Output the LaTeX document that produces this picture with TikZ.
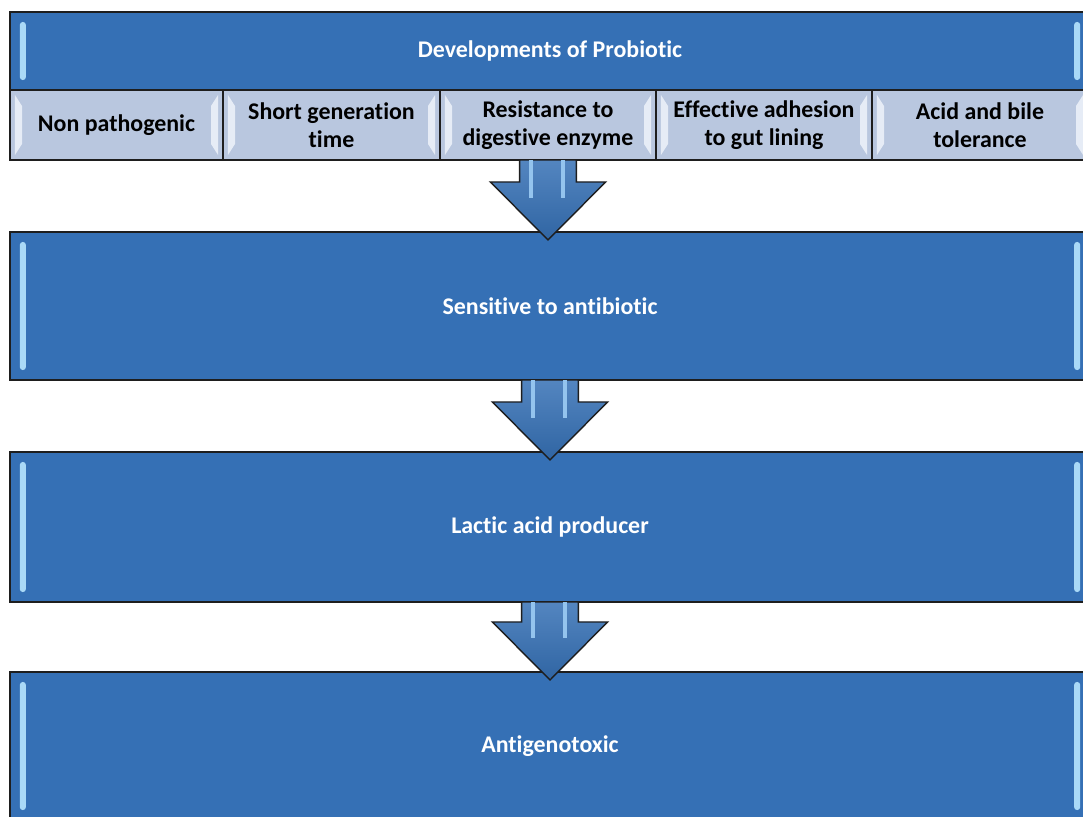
\documentclass[tikz,border=0pt]{standalone}
\usepackage{fontspec}
\setmainfont{Carlito}[Ligatures=NoCommon]
\usetikzlibrary{calc,positioning}
\definecolor{boxblue}{HTML}{3570B5}
\definecolor{subfill}{HTML}{B9C7DF}
\definecolor{bevel}{HTML}{E6ECF6}
\definecolor{barlight}{HTML}{A9D9F7}
\definecolor{edge}{HTML}{1E1E1E}
\definecolor{shine}{HTML}{94C4EE}

\tikzset{
  mainbox/.style={draw=edge,line width=1.2pt,fill=boxblue,text=white,
    font=\fontsize{17}{19.5}\selectfont\bfseries,minimum width=27cm,
    inner sep=0pt,outer sep=0pt,
    path picture={
      \fill[barlight,rounded corners=2pt] ([shift={(0.25cm,-0.25cm)}]path picture bounding box.north west)
        rectangle ([shift={(0.4cm,0.25cm)}]path picture bounding box.south west);
      \fill[barlight,rounded corners=2pt] ([shift={(-0.25cm,-0.25cm)}]path picture bounding box.north east)
        rectangle ([shift={(-0.4cm,0.25cm)}]path picture bounding box.south east);
    }},
  subbox/.style={draw=edge,line width=1.2pt,fill=subfill,text=black,align=center,
    font=\fontsize{17}{19.5}\selectfont\bfseries,minimum height=1.75cm,
    inner sep=0pt,outer sep=0pt,
    path picture={
      \fill[bevel] ([shift={(0.12cm,-0.12cm)}]path picture bounding box.north west)
        -- ([shift={(0.3cm,-0.4cm)}]path picture bounding box.north west)
        -- ([shift={(0.3cm,0.4cm)}]path picture bounding box.south west)
        -- ([shift={(0.12cm,0.12cm)}]path picture bounding box.south west) -- cycle;
      \fill[bevel] ([shift={(-0.12cm,-0.12cm)}]path picture bounding box.north east)
        -- ([shift={(-0.3cm,-0.4cm)}]path picture bounding box.north east)
        -- ([shift={(-0.3cm,0.4cm)}]path picture bounding box.south east)
        -- ([shift={(-0.12cm,0.12cm)}]path picture bounding box.south east) -- cycle;
    }},
  arrowbody/.style={draw=edge,line width=1pt,line join=miter,top color=boxblue!85!white,bottom color=boxblue!90!black},
  arrowshine/.style={shine,line width=3pt}
}

% block arrow from one box down into the next
\newcommand{\probarrow}[2]{%
  \coordinate (tip) at ([yshift=-0.2cm]#1.south |- #2.north);
  \draw[arrowbody] ([xshift=-0.71cm]#1.south) -- ([xshift=-0.71cm,yshift=1.45cm]tip)
    -- ([xshift=-1.44cm,yshift=1.45cm]tip) -- (tip) -- ([xshift=1.44cm,yshift=1.45cm]tip)
    -- ([xshift=0.71cm,yshift=1.45cm]tip) -- ([xshift=0.71cm]#1.south) -- cycle;
  \draw[arrowshine] ([xshift=-0.42cm]#1.south) -- ([xshift=-0.42cm,yshift=1.05cm]tip);
  \draw[arrowshine] ([xshift=0.38cm]#1.south) -- ([xshift=0.38cm,yshift=1.05cm]tip);
}

\begin{document}
\begin{tikzpicture}[x=0.025cm,y=-0.025cm]
  \useasboundingbox (0,0) rectangle (1083,816);
  \clip (0,0) rectangle (1083,816);
  \fill[white] (0,0) rectangle (1083,816);

  % header and the five properties
  \node[mainbox,minimum height=1.95cm] (dev) at (550,51) {Developments of Probiotic};
  \foreach \cx/\w/\txt/\i in {%
      116.5/213/{Non pathogenic}/1, 331.5/217/{Short generation\\time}/2,
      548/216/{Resistance to\\digestive enzyme}/3, 764/216/{Effective adhesion\\to gut lining}/4,
      980/216/{Acid and bile\\tolerance}/5}{
    \node[subbox,minimum width=\w*0.025cm] (sub\i) at (\cx,125) {\txt};
  }

  % the chain below
  \node[mainbox,minimum height=3.7cm] (sens) at (550,306) {Sensitive to antibiotic};
  \node[mainbox,minimum height=3.75cm] (lactic) at (550,527) {Lactic acid producer};
  \node[mainbox,minimum height=3.7cm] (antigen) at (550,746) {Antigenotoxic};

  \probarrow{sub3}{sens}
  \probarrow{sens}{lactic}
  \probarrow{lactic}{antigen}
\end{tikzpicture}
\end{document}
